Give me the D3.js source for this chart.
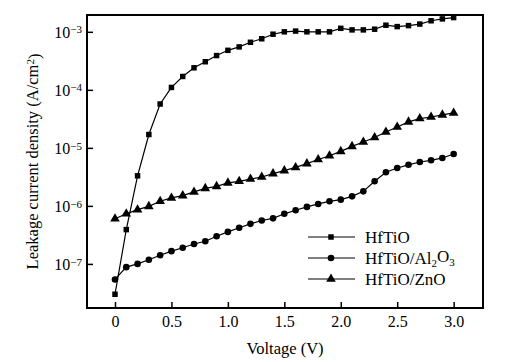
<meta charset="utf-8">
<script src="https://cdn.jsdelivr.net/npm/d3@7/dist/d3.min.js"></script>

<style>
  body {
    margin: 0;
    background-color: #fff;
  }
  text {
    font-family: "Liberation Serif", "Times New Roman", serif;
    fill: #000;
  }
</style>

<div id="chart"></div>

<script>
// voltage steps, 0 to 3.0 V
var voltage = [0, 0.1, 0.2, 0.3, 0.4, 0.5, 0.6, 0.7, 0.8, 0.9, 1.0,
               1.1, 1.2, 1.3, 1.4, 1.5, 1.6, 1.7, 1.8, 1.9, 2.0,
               2.1, 2.2, 2.3, 2.4, 2.5, 2.6, 2.7, 2.8, 2.9, 3.0];

var hftio = [3.0e-8, 3.9e-7, 3.3e-6, 1.7e-5, 5.7e-5, 1.1e-4, 1.7e-4, 2.4e-4, 3.05e-4, 3.9e-4, 4.8e-4,
             5.5e-4, 6.6e-4, 7.6e-4, 9.1e-4, 1.0e-3, 1.03e-3, 1.0e-3, 1.0e-3, 1.0e-3, 1.15e-3,
             1.08e-3, 1.08e-3, 1.11e-3, 1.3e-3, 1.23e-3, 1.28e-3, 1.36e-3, 1.55e-3, 1.67e-3, 1.76e-3];

var hftioAl = [5.4e-8, 8.8e-8, 1.0e-7, 1.18e-7, 1.41e-7, 1.66e-7, 1.9e-7, 2.2e-7, 2.46e-7, 3.0e-7, 3.56e-7,
               4.2e-7, 4.9e-7, 5.6e-7, 6.1e-7, 7.3e-7, 8.4e-7, 9.6e-7, 1.08e-6, 1.2e-6, 1.28e-6,
               1.46e-6, 1.78e-6, 2.65e-6, 3.8e-6, 4.5e-6, 5.1e-6, 5.7e-6, 6.1e-6, 6.7e-6, 7.85e-6];

var hftioZn = [6.0e-7, 7.3e-7, 8.6e-7, 9.8e-7, 1.2e-6, 1.37e-6, 1.5e-6, 1.74e-6, 2.0e-6, 2.17e-6, 2.49e-6,
               2.65e-6, 2.9e-6, 3.15e-6, 3.6e-6, 4.05e-6, 4.6e-6, 5.35e-6, 6.3e-6, 7.3e-6, 8.7e-6,
               1.06e-5, 1.26e-5, 1.51e-5, 1.88e-5, 2.29e-5, 2.8e-5, 3.2e-5, 3.4e-5, 3.7e-5, 4.0e-5];

var xTicks = [0, 0.5, 1.0, 1.5, 2.0, 2.5, 3.0];
var yTickExp = [-3, -4, -5, -6, -7];

var seriesNames = ["HfTiO", "HfTiO/Al2O3", "HfTiO/ZnO"];
var seriesValues = [hftio, hftioAl, hftioZn];
var seriesSymbols = [d3.symbolSquare, d3.symbolCircle, d3.symbolTriangle];
var symbolSizes = [30, 34, 40];

var W = 508, H = 362;
var plot = {left: 87, right: 483, top: 15, bottom: 308};

var svg = d3.select("#chart")
  .append("svg")
    .attr("width", W)
    .attr("height", H);

var x = d3.scaleLinear()
  .domain([-0.248, 3.26])
  .range([plot.left, plot.right]);

var y = d3.scaleLog()
  .domain([Math.pow(10, -7.76), Math.pow(10, -2.71)])
  .range([plot.bottom, plot.top]);

// x axis, ticks pointing inward
var xAxis = svg.append("g")
  .attr("transform", "translate(0," + plot.bottom + ")")
  .call(d3.axisBottom(x)
    .tickValues(xTicks)
    .tickSize(-6)
    .tickPadding(8)
    .tickFormat(function(d) { return d === 0 ? "0" : d3.format(".1f")(d); }));
xAxis.selectAll("text")
  .attr("font-size", "16px");

// y axis with 10^n labels
var yAxis = svg.append("g")
  .attr("transform", "translate(" + plot.left + ",0)")
  .call(d3.axisLeft(y)
    .tickValues(yTickExp.map(function(e) { return Math.pow(10, e); }))
    .tickSize(-6)
    .tickFormat(""));
yAxis.selectAll(".tick text").remove();
yAxis.selectAll(".tick")
  .append("text")
    .attr("x", -5)
    .attr("dy", "0.38em")
    .attr("text-anchor", "end")
    .attr("font-size", "16px")
    .each(function(d) {
      var t = d3.select(this);
      var e = Math.round(Math.log10(d));
      t.append("tspan").text("10");
      t.append("tspan")
        .attr("dy", "-0.45em")
        .attr("font-size", "11px")
        .text("\u2212" + Math.abs(e));
    });

svg.selectAll(".domain").remove();
svg.selectAll(".tick line").attr("stroke", "#000").attr("stroke-width", 1.5);

// frame
svg.append("rect")
  .attr("x", plot.left)
  .attr("y", plot.top)
  .attr("width", plot.right - plot.left)
  .attr("height", plot.bottom - plot.top)
  .attr("fill", "none")
  .attr("stroke", "#000")
  .attr("stroke-width", 2);

// lines and markers
var line = d3.line()
  .x(function(d, i) { return x(voltage[i]); })
  .y(function(d) { return y(d); });

seriesValues.forEach(function(vals, s) {
  svg.append("path")
    .datum(vals)
    .attr("fill", "none")
    .attr("stroke", "#000")
    .attr("stroke-width", 1.2)
    .attr("d", line);

  svg.selectAll(".m" + s)
    .data(vals)
    .enter()
    .append("path")
      .attr("class", "m" + s)
      .attr("transform", function(d, i) {
        return "translate(" + x(voltage[i]) + "," + y(d) + ")";
      })
      .attr("d", d3.symbol().type(seriesSymbols[s]).size(symbolSizes[s]))
      .attr("fill", "#000");
});

// legend
var legend = svg.append("g").attr("transform", "translate(308,237)");
seriesNames.forEach(function(name, s) {
  var row = legend.append("g").attr("transform", "translate(0," + (s * 21) + ")");
  row.append("line")
    .attr("x1", 0).attr("x2", 47)
    .attr("y1", 0).attr("y2", 0)
    .attr("stroke", "#000")
    .attr("stroke-width", 1.2);
  row.append("path")
    .attr("transform", "translate(23,0)")
    .attr("d", d3.symbol().type(seriesSymbols[s]).size(symbolSizes[s]))
    .attr("fill", "#000");
  var txt = row.append("text")
    .attr("x", 57)
    .attr("dy", "0.36em")
    .attr("font-size", "17px");
  if (name === "HfTiO/Al2O3") {
    txt.append("tspan").text("HfTiO/Al");
    txt.append("tspan").attr("dy", "0.3em").attr("font-size", "11px").text("2");
    txt.append("tspan").attr("dy", "-0.3em").text("O");
    txt.append("tspan").attr("dy", "0.3em").attr("font-size", "11px").text("3");
  } else {
    txt.text(name);
  }
});

// axis titles
svg.append("text")
  .attr("x", (plot.left + plot.right) / 2)
  .attr("y", 354)
  .attr("text-anchor", "middle")
  .attr("font-size", "16.5px")
  .text("Voltage (V)");

var yt = svg.append("text")
  .attr("transform", "translate(38," + ((plot.top + plot.bottom) / 2) + ") rotate(-90)")
  .attr("text-anchor", "middle")
  .attr("font-size", "16.5px");
yt.append("tspan").text("Leakage current density (A/cm");
yt.append("tspan").attr("dy", "-0.4em").attr("font-size", "11px").text("2");
yt.append("tspan").attr("dy", "0.4em").text(")");
</script>
